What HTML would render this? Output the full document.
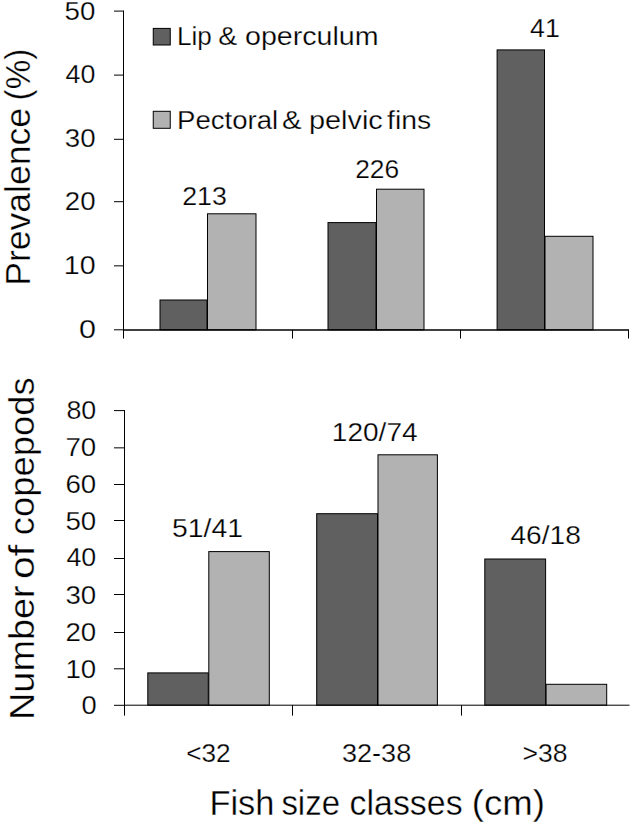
<!DOCTYPE html>
<html><head><meta charset="utf-8"><style>
html,body{margin:0;padding:0;background:#fff;}
body{width:631px;height:824px;overflow:hidden;}
svg{display:block;}
text{font-family:"Liberation Sans", sans-serif;fill:#000;stroke:#fff;stroke-width:0.25px;}
text.big{stroke-width:0.35px;}
</style></head><body>
<svg width="631" height="824" viewBox="0 0 631 824">
<rect width="631" height="824" fill="#fff"/>
<rect x="160.00" y="300.00" width="47.00" height="29.80" fill="#606060" stroke="#000" stroke-width="1"/>
<rect x="207.50" y="213.80" width="48.50" height="116.00" fill="#b2b2b2" stroke="#000" stroke-width="1"/>
<rect x="328.00" y="222.60" width="48.00" height="107.20" fill="#606060" stroke="#000" stroke-width="1"/>
<rect x="376.50" y="189.20" width="47.50" height="140.60" fill="#b2b2b2" stroke="#000" stroke-width="1"/>
<rect x="497.10" y="49.90" width="47.40" height="279.90" fill="#606060" stroke="#000" stroke-width="1"/>
<rect x="545.00" y="236.30" width="48.00" height="93.50" fill="#b2b2b2" stroke="#000" stroke-width="1"/>
<line x1="123.5" y1="10.55" x2="123.5" y2="338.5" stroke="#000" stroke-width="1"/>
<line x1="114" y1="329.8" x2="123.5" y2="329.8" stroke="#000" stroke-width="1"/>
<line x1="114" y1="265.85" x2="123.5" y2="265.85" stroke="#000" stroke-width="1"/>
<line x1="114" y1="201.7" x2="123.5" y2="201.7" stroke="#000" stroke-width="1"/>
<line x1="114" y1="139.3" x2="123.5" y2="139.3" stroke="#000" stroke-width="1"/>
<line x1="114" y1="75.1" x2="123.5" y2="75.1" stroke="#000" stroke-width="1"/>
<line x1="114" y1="11.1" x2="123.5" y2="11.1" stroke="#000" stroke-width="1"/>
<line x1="123.5" y1="329.95" x2="629.0" y2="329.95" stroke="#000" stroke-width="1.5"/>
<line x1="292.5" y1="329.8" x2="292.5" y2="338.5" stroke="#000" stroke-width="1"/>
<line x1="460.5" y1="329.8" x2="460.5" y2="338.5" stroke="#000" stroke-width="1"/>
<line x1="628.5" y1="329.8" x2="628.5" y2="338.5" stroke="#000" stroke-width="1"/>
<text x="79.00" y="337.60" font-size="26" textLength="17.00" lengthAdjust="spacingAndGlyphs">0</text>
<text x="63.80" y="273.80" font-size="26" textLength="31.80" lengthAdjust="spacingAndGlyphs">10</text>
<text x="64.80" y="210.40" font-size="26" textLength="30.80" lengthAdjust="spacingAndGlyphs">20</text>
<text x="64.80" y="146.80" font-size="26" textLength="30.80" lengthAdjust="spacingAndGlyphs">30</text>
<text x="65.60" y="83.00" font-size="26" textLength="29.80" lengthAdjust="spacingAndGlyphs">40</text>
<text x="64.60" y="20.40" font-size="26" textLength="30.80" lengthAdjust="spacingAndGlyphs">50</text>
<text x="182.20" y="205.20" font-size="26" textLength="44.60" lengthAdjust="spacingAndGlyphs">213</text>
<text x="355.20" y="178.40" font-size="26" textLength="44.00" lengthAdjust="spacingAndGlyphs">226</text>
<text x="530.00" y="37.00" font-size="26" textLength="29.80" lengthAdjust="spacingAndGlyphs">41</text>
<rect x="153.25" y="28.4" width="17" height="16.6" fill="#606060" stroke="#000"/>
<rect x="153.25" y="111.3" width="17" height="17" fill="#b2b2b2" stroke="#000"/>
<text x="177.00" y="45.40" font-size="26" textLength="34.80" lengthAdjust="spacingAndGlyphs">Lip</text>
<text x="218.20" y="45.40" font-size="26" textLength="19.00" lengthAdjust="spacingAndGlyphs">&amp;</text>
<text x="245.00" y="45.40" font-size="26" textLength="133.60" lengthAdjust="spacingAndGlyphs">operculum</text>
<text x="177.00" y="128.50" font-size="26" textLength="101.20" lengthAdjust="spacingAndGlyphs">Pectoral</text>
<text x="282.00" y="128.50" font-size="26" textLength="19.60" lengthAdjust="spacingAndGlyphs">&amp;</text>
<text x="309.00" y="128.50" font-size="26" textLength="73.80" lengthAdjust="spacingAndGlyphs">pelvic</text>
<text x="387.00" y="128.50" font-size="26" textLength="44.20" lengthAdjust="spacingAndGlyphs">fins</text>
<text class="big" x="0" y="0" font-size="35" transform="translate(30.00,285.80) rotate(-90)" textLength="177.80" lengthAdjust="spacingAndGlyphs">Prevalence</text>
<text class="big" x="0" y="0" font-size="35" transform="translate(30.00,100.40) rotate(-90)" textLength="51.60" lengthAdjust="spacingAndGlyphs">(%)</text>
<rect x="147.80" y="672.90" width="60.50" height="32.30" fill="#606060" stroke="#000" stroke-width="1"/>
<rect x="208.80" y="551.60" width="60.50" height="153.60" fill="#b2b2b2" stroke="#000" stroke-width="1"/>
<rect x="316.70" y="513.70" width="60.80" height="191.50" fill="#606060" stroke="#000" stroke-width="1"/>
<rect x="378.00" y="454.80" width="59.40" height="250.40" fill="#b2b2b2" stroke="#000" stroke-width="1"/>
<rect x="484.80" y="559.00" width="60.80" height="146.20" fill="#606060" stroke="#000" stroke-width="1"/>
<rect x="546.10" y="684.30" width="60.60" height="20.90" fill="#b2b2b2" stroke="#000" stroke-width="1"/>
<line x1="124.5" y1="410.0" x2="124.5" y2="715.6" stroke="#000" stroke-width="1"/>
<line x1="114" y1="705.3" x2="124.5" y2="705.3" stroke="#000" stroke-width="1"/>
<line x1="114" y1="668.8" x2="124.5" y2="668.8" stroke="#000" stroke-width="1"/>
<line x1="114" y1="632.5" x2="124.5" y2="632.5" stroke="#000" stroke-width="1"/>
<line x1="114" y1="594.5" x2="124.5" y2="594.5" stroke="#000" stroke-width="1"/>
<line x1="114" y1="558.5" x2="124.5" y2="558.5" stroke="#000" stroke-width="1"/>
<line x1="114" y1="520.5" x2="124.5" y2="520.5" stroke="#000" stroke-width="1"/>
<line x1="114" y1="484.5" x2="124.5" y2="484.5" stroke="#000" stroke-width="1"/>
<line x1="114" y1="447.85" x2="124.5" y2="447.85" stroke="#000" stroke-width="1"/>
<line x1="114" y1="410.6" x2="124.5" y2="410.6" stroke="#000" stroke-width="1"/>
<line x1="124.5" y1="705.2" x2="629.5" y2="705.2" stroke="#000" stroke-width="1"/>
<line x1="292.5" y1="705.2" x2="292.5" y2="715.6" stroke="#000" stroke-width="1"/>
<line x1="461.5" y1="705.2" x2="461.5" y2="715.6" stroke="#000" stroke-width="1"/>
<text x="81.40" y="714.20" font-size="26" textLength="15.20" lengthAdjust="spacingAndGlyphs">0</text>
<text x="65.40" y="678.16" font-size="26" textLength="30.80" lengthAdjust="spacingAndGlyphs">10</text>
<text x="65.40" y="641.12" font-size="26" textLength="30.80" lengthAdjust="spacingAndGlyphs">20</text>
<text x="65.40" y="604.08" font-size="26" textLength="30.80" lengthAdjust="spacingAndGlyphs">30</text>
<text x="66.40" y="566.04" font-size="26" textLength="29.80" lengthAdjust="spacingAndGlyphs">40</text>
<text x="65.40" y="530.00" font-size="26" textLength="30.80" lengthAdjust="spacingAndGlyphs">50</text>
<text x="65.40" y="492.96" font-size="26" textLength="30.80" lengthAdjust="spacingAndGlyphs">60</text>
<text x="65.40" y="455.92" font-size="26" textLength="30.80" lengthAdjust="spacingAndGlyphs">70</text>
<text x="66.40" y="419.20" font-size="26" textLength="29.80" lengthAdjust="spacingAndGlyphs">80</text>
<text x="172.00" y="536.60" font-size="26" textLength="71.00" lengthAdjust="spacingAndGlyphs">51/41</text>
<text x="331.80" y="441.00" font-size="26" textLength="85.80" lengthAdjust="spacingAndGlyphs">120/74</text>
<text x="510.40" y="543.90" font-size="26" textLength="70.40" lengthAdjust="spacingAndGlyphs">46/18</text>
<text x="186.20" y="761.80" font-size="26" textLength="44.40" lengthAdjust="spacingAndGlyphs">&lt;32</text>
<text x="342.00" y="762.00" font-size="26" textLength="69.20" lengthAdjust="spacingAndGlyphs">32-38</text>
<text x="522.40" y="761.80" font-size="26" textLength="45.00" lengthAdjust="spacingAndGlyphs">&gt;38</text>
<text class="big" x="209.40" y="814.90" font-size="35" textLength="65.00" lengthAdjust="spacingAndGlyphs">Fish</text>
<text class="big" x="281.40" y="814.90" font-size="35" textLength="58.60" lengthAdjust="spacingAndGlyphs">size</text>
<text class="big" x="349.60" y="814.90" font-size="35" textLength="113.00" lengthAdjust="spacingAndGlyphs">classes</text>
<text class="big" x="471.80" y="814.90" font-size="35" textLength="73.20" lengthAdjust="spacingAndGlyphs">(cm)</text>
<text class="big" x="0" y="0" font-size="35" transform="translate(34.00,720.00) rotate(-90)" textLength="134.60" lengthAdjust="spacingAndGlyphs">Number</text>
<text class="big" x="0" y="0" font-size="35" transform="translate(34.00,579.00) rotate(-90)" textLength="34.00" lengthAdjust="spacingAndGlyphs">of</text>
<text class="big" x="0" y="0" font-size="35" transform="translate(34.00,535.20) rotate(-90)" textLength="157.80" lengthAdjust="spacingAndGlyphs">copepods</text>
</svg>
</body></html>
